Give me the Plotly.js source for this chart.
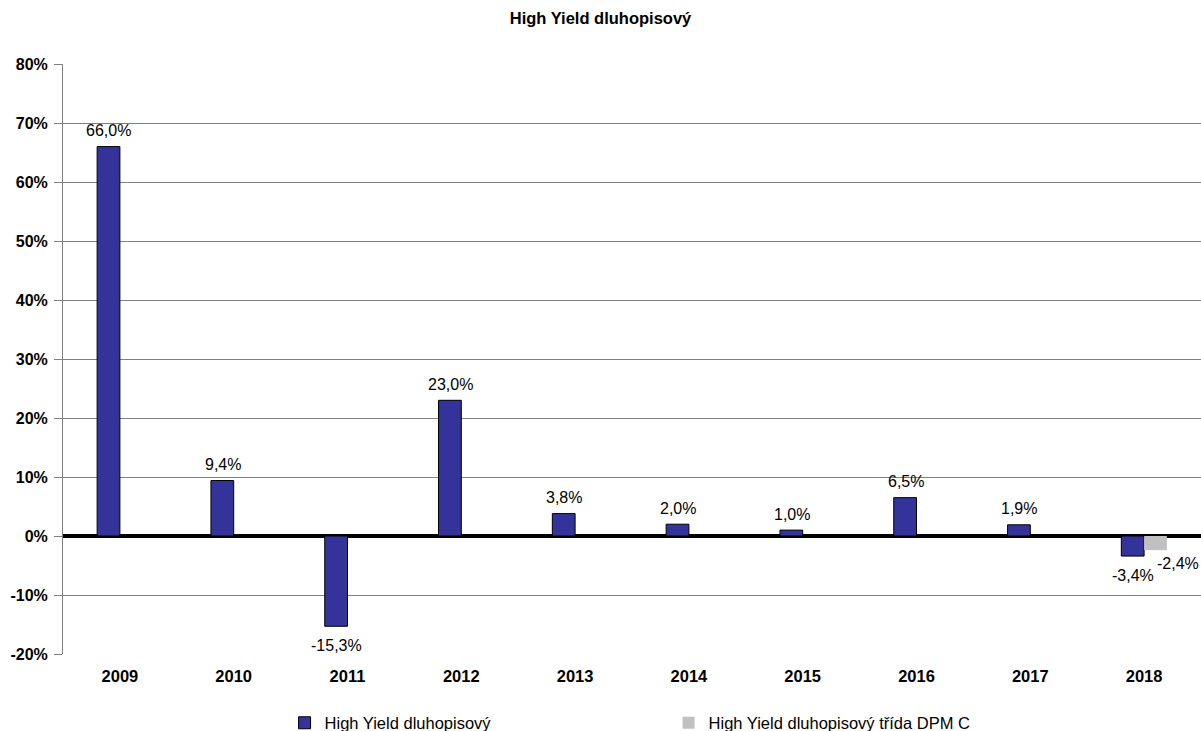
<!DOCTYPE html>
<html>
<head>
<meta charset="utf-8">
<script src="https://cdn.plot.ly/plotly-3.0.1.min.js"></script>
<style>html,body{margin:0;padding:0;background:#fff;}#chart{width:1201px;height:731px;}</style>
</head>
<body>
<div id="chart"></div>
<script>
const years = ['2009','2010','2011','2012','2013','2014','2015','2016','2017','2018'];
const fundValues = [66.0, 9.4, -15.3, 23.0, 3.8, 2.0, 1.0, 6.5, 1.9, -3.4];
const classCValues = [null, null, null, null, null, null, null, null, null, -2.4];
const seriesNames = ['High Yield dluhopisový', 'High Yield dluhopisový třída DPM C'];
const yTicks = [-20, -10, 0, 10, 20, 30, 40, 50, 60, 70, 80];
const yTickText = yTicks.map(v => v + '%');

const font = 'Liberation Sans, Arial, sans-serif';

const boundaryTicks = [];
for (let i = 0; i <= years.length; i++) boundaryTicks.push(i - 0.5);

function fmt(v) { return v.toFixed(1).replace('.', ',') + '%'; }

const traces = [
  {
    type: 'bar', name: seriesNames[0], x: years, y: fundValues,
    marker: {color: '#333399', line: {color: '#000000', width: 1}},
    hoverinfo: 'skip'
  },
  {
    type: 'bar', name: seriesNames[1], x: years, y: classCValues,
    marker: {color: '#C0C0C0', line: {color: '#C0C0C0', width: 0}},
    hoverinfo: 'skip'
  }
];

const annotations = [];
fundValues.forEach((v, i) => {
  if (v === null) return;
  annotations.push({x: i, y: v, xref: 'x', yref: 'y', text: fmt(v), showarrow: false,
    xanchor: 'center', yanchor: 'middle', xshift: -11, yshift: v >= 0 ? 16 : -19,
    font: {family: font, size: 16, color: '#000'}});
});
classCValues.forEach((v, i) => {
  if (v === null) return;
  annotations.push({x: i, y: v, xref: 'x', yref: 'y', text: fmt(v), showarrow: false,
    xanchor: 'center', yanchor: 'middle', xshift: 34, yshift: v >= 0 ? 14 : -13,
    font: {family: font, size: 16, color: '#000'}});
});

const layout = {
  width: 1201, height: 731,
  margin: {l: 63, r: 0, t: 64, b: 77, autoexpand: false},
  paper_bgcolor: '#fff', plot_bgcolor: '#fff',
  font: {family: font, color: '#000'},
  title: {text: '<b>High Yield dluhopisový</b>', font: {family: font, size: 16.5, color: '#000'}, x: 0.5, xanchor: 'center', y: 0.975, yanchor: 'middle'},
  barmode: 'group', bargap: 0.6, bargroupgap: 0,
  showlegend: true,
  legend: {orientation: 'h', x: 0.1947, xanchor: 'left', y: -0.117, yanchor: 'middle',
    font: {family: font, size: 16.5, color: '#000'}, entrywidth: 339, entrywidthmode: 'pixels',
    itemclick: false, traceorder: 'normal'},
  annotations: annotations,
  xaxis: {type: 'category', categoryorder: 'array', categoryarray: years,
    showgrid: false, zeroline: false, showline: false, ticks: '', ticklabelstandoff: 10,
    tickfont: {family: font, size: 16.5, color: '#000', weight: 'bold'},
    range: [-0.5, years.length - 0.5], fixedrange: true},
  xaxis2: {overlaying: 'x', anchor: 'free', position: 0.2, type: 'linear',
    range: [-0.5, years.length - 0.5], tickmode: 'array', tickvals: boundaryTicks,
    showticklabels: false, ticks: 'outside', ticklen: 4, tickwidth: 4, tickcolor: '#000',
    showgrid: false, zeroline: false, showline: false, fixedrange: true},
  yaxis: {range: [-20, 80], tickmode: 'array', tickvals: yTicks, ticktext: yTickText,
    showgrid: true, gridcolor: '#808080', gridwidth: 1,
    zeroline: true, zerolinecolor: '#000', zerolinewidth: 4,
    showline: true, linecolor: '#808080', linewidth: 1,
    ticks: 'outside', ticklen: 8, tickcolor: '#808080', ticklabelstandoff: 3,
    tickfont: {family: font, size: 16, color: '#000', weight: 'bold'},
    fixedrange: true}
};

Plotly.newPlot('chart', traces, layout, {displayModeBar: false, staticPlot: true});
</script>
</body>
</html>
